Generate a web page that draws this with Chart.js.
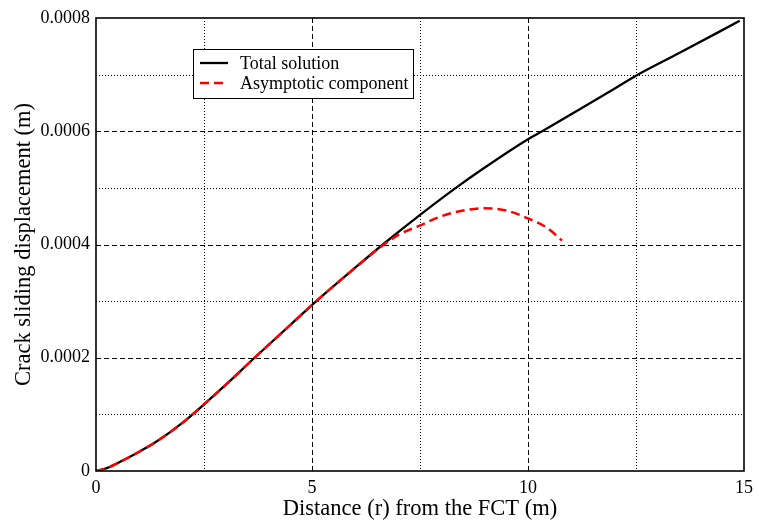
<!DOCTYPE html>
<html>
<head>
<meta charset="utf-8">
<script src="https://cdn.jsdelivr.net/npm/chart.js@4/dist/chart.umd.min.js"></script>
<style>
html,body{margin:0;padding:0;background:#fff;}
#wrap{width:759px;height:525px;}
</style>
</head>
<body>
<div id="wrap"><canvas id="c" width="759" height="525"></canvas></div>
<script>
// ---- data ----
const seriesNames = ["Total solution", "Asymptotic component"];
const totalX = [0, 0.25, 0.63, 1.0, 1.4, 2.0, 2.5, 3.0, 3.67, 4.5, 5.1, 6.0, 6.64, 7.48, 8.33, 9.0, 10.0, 10.33, 11.18, 12.0, 12.5, 13.5, 14.9];
const totalY = [0, 0.000005, 0.000019, 0.000034, 0.000052, 0.000085, 0.0001176, 0.000152, 0.0002, 0.000258, 0.0003, 0.000359, 0.0004, 0.000451, 0.0005, 0.000536, 0.000586, 0.0006, 0.000638, 0.000675, 0.000698, 0.000738, 0.000795];
const asymX = [0, 0.25, 0.63, 1.0, 1.4, 2.0, 2.5, 3.0, 3.67, 4.5, 5.1, 6.0, 6.56, 7.0, 7.48, 8.0, 8.5, 8.95, 9.5, 10.0, 10.41, 10.79];
const asymY = [0, 0.000005, 0.000019, 0.000034, 0.000052, 0.000085, 0.0001176, 0.000152, 0.0002, 0.000258, 0.0003, 0.000359, 0.000394, 0.000417, 0.000433, 0.00045, 0.00046, 0.000464, 0.00046, 0.000446, 0.000431, 0.000407];
const xMajorTicks = [0, 5, 10, 15];
const xMinorGrid = [2.5, 7.5, 12.5];
const xMajorGrid = [5, 10];
const yMajorTicks = [0, 0.0002, 0.0004, 0.0006, 0.0008];
const yMinorGrid = [0.0001, 0.0003, 0.0005, 0.0007];
const yMajorGrid = [0.0002, 0.0004, 0.0006];
const xTitle = "Distance (r) from the FCT (m)";
const yTitle = "Crack sliding displacement (m)";

const FONT = "'Liberation Serif', 'Times New Roman', serif";

const gridPlugin = {
  id: 'gridPlugin',
  beforeDatasetsDraw(chart) {
    const ctx = chart.ctx, a = chart.chartArea;
    const xs = chart.scales.x, ys = chart.scales.y;
    ctx.save();
    ctx.strokeStyle = '#000';
    ctx.lineWidth = 1;
    ctx.setLineDash([1, 2]);
    xMinorGrid.forEach(v => { const p = Math.round(xs.getPixelForValue(v)) + 0.5; ctx.beginPath(); ctx.moveTo(p, a.top); ctx.lineTo(p, a.bottom); ctx.stroke(); });
    yMinorGrid.forEach(v => { const p = Math.round(ys.getPixelForValue(v)) + 0.5; ctx.beginPath(); ctx.moveTo(a.left, p); ctx.lineTo(a.right, p); ctx.stroke(); });
    ctx.setLineDash([5, 3]);
    xMajorGrid.forEach(v => { const p = Math.round(xs.getPixelForValue(v)) + 0.5; ctx.beginPath(); ctx.moveTo(p, a.top); ctx.lineTo(p, a.bottom); ctx.stroke(); });
    yMajorGrid.forEach(v => { const p = Math.round(ys.getPixelForValue(v)) + 0.5; ctx.beginPath(); ctx.moveTo(a.left, p); ctx.lineTo(a.right, p); ctx.stroke(); });
    ctx.restore();
  },
  afterDatasetsDraw(chart) {
    const ctx = chart.ctx, a = chart.chartArea;
    ctx.save();
    ctx.strokeStyle = '#000';
    ctx.lineWidth = 1.6;
    ctx.setLineDash([]);
    ctx.strokeRect(a.left, a.top, a.right - a.left, a.bottom - a.top);
    // legend
    const lx = 193.5, ly = 49.5, lw = 220, lh = 49;
    ctx.fillStyle = '#fff';
    ctx.fillRect(lx, ly, lw, lh);
    ctx.lineWidth = 1;
    ctx.strokeRect(lx, ly, lw, lh);
    const ds = chart.data.datasets;
    const rows = [63, 83];
    ds.forEach((d, i) => {
      ctx.strokeStyle = d.borderColor;
      ctx.lineWidth = d.borderWidth;
      ctx.setLineDash(d.borderDash || []);
      ctx.beginPath(); ctx.moveTo(200, rows[i]); ctx.lineTo(228, rows[i]); ctx.stroke();
      ctx.setLineDash([]);
      ctx.fillStyle = '#000';
      ctx.font = "18px " + FONT;
      ctx.textBaseline = 'middle';
      ctx.textAlign = 'left';
      ctx.fillText(d.label, 240, rows[i] + 1);
    });
    ctx.restore();
  }
};

new Chart(document.getElementById('c'), {
  type: 'line',
  data: {
    datasets: [
      { label: seriesNames[0], order: 1, data: totalX.map((x, i) => ({x, y: totalY[i]})), borderColor: '#000', borderWidth: 2.3, pointRadius: 0, cubicInterpolationMode: 'monotone', fill: false },
      { label: seriesNames[1], order: 0, data: asymX.map((x, i) => ({x, y: asymY[i]})), borderColor: '#ff0000', borderWidth: 2.5, borderDash: [9, 5], pointRadius: 0, cubicInterpolationMode: 'monotone', fill: false }
    ]
  },
  options: {
    responsive: false,
    animation: false,
    devicePixelRatio: 1,
    layout: { padding: { left: 0, right: 14, top: 18, bottom: 0 } },
    plugins: { legend: { display: false }, tooltip: { enabled: false } },
    scales: {
      x: {
        type: 'linear', min: 0, max: 15,
        afterBuildTicks: s => { s.ticks = xMajorTicks.map(v => ({value: v})); },
        grid: { display: false, drawTicks: false, tickLength: 0 }, border: { display: false },
        ticks: { color: '#000', font: { family: FONT, size: 18 }, padding: 6, maxRotation: 0 },
        title: { display: true, text: xTitle, color: '#000', font: { family: FONT, size: 22.5 }, padding: { top: 0, bottom: 2 } },
        afterFit: s => { s.height = 54; }
      },
      y: {
        type: 'linear', min: 0, max: 0.0008,
        afterBuildTicks: s => { s.ticks = yMajorTicks.map(v => ({value: v})); },
        grid: { display: false, drawTicks: false, tickLength: 0 }, border: { display: false },
        ticks: { color: '#000', font: { family: FONT, size: 18 }, padding: 6, callback: v => v === 0 ? '0' : v.toFixed(4) },
        title: { display: true, text: yTitle, color: '#000', font: { family: FONT, size: 22.5 }, padding: { top: 11, bottom: 0 } },
        afterFit: s => { s.width = 96; }
      }
    }
  },
  plugins: [gridPlugin]
});
</script>
</body>
</html>
